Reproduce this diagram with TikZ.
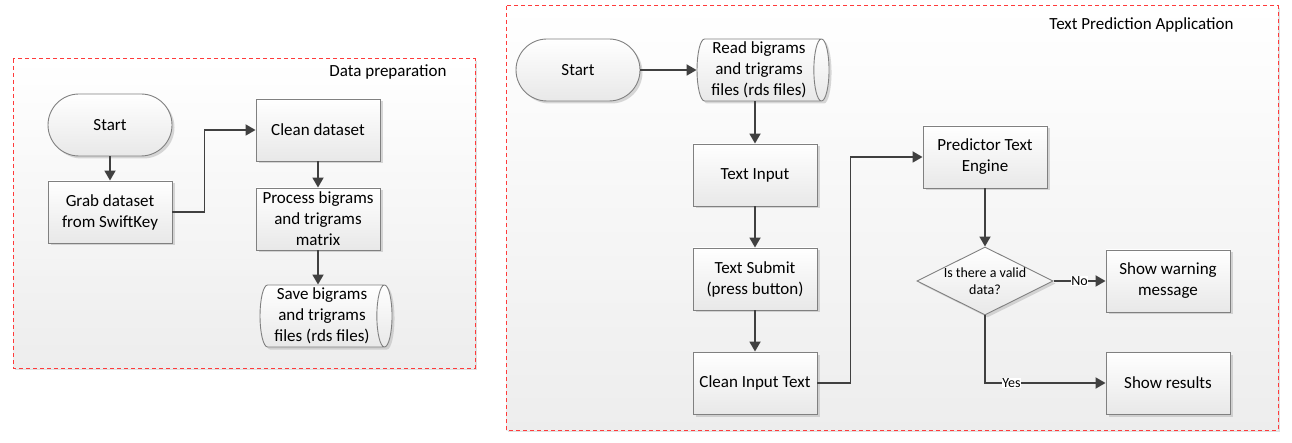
\documentclass[tikz,border=0pt]{standalone}
\usepackage{fontspec}
\setmainfont{Carlito}
\usetikzlibrary{shapes.geometric,arrows.meta,shadows}
\definecolor{linegray}{HTML}{404040}
\definecolor{boxgray}{HTML}{808080}
\definecolor{framered}{HTML}{FF3B3B}

\begin{document}
\begin{tikzpicture}[x=1pt,y=-1pt,font=\fontsize{17}{21}\selectfont]
        \tikzstyle{base node}=[draw=boxgray,line width=0.9pt,shading=axis,top color=white,bottom color=black!9,align=center,inner sep=2pt,
            drop shadow={shadow xshift=2.5pt,shadow yshift=-2.5pt,fill=black!30,opacity=0.5}]
        \tikzstyle{process node}=[base node,rectangle,minimum width=124,minimum height=62]
        \tikzstyle{terminal node}=[base node,rectangle,rounded corners=31pt,minimum width=124,minimum height=62]
        \tikzstyle{data node}=[base node,cylinder,shape aspect=0.27,minimum width=62,minimum height=132,inner sep=0pt]
        \tikzstyle{decision node}=[base node,diamond,aspect=2,minimum width=124,minimum height=61,inner sep=0pt,font=\fontsize{14}{17}\selectfont]
        \tikzstyle{frame}=[draw=framered,dash pattern=on 4pt off 3pt,line width=1pt,shading=axis,top color=white,bottom color=black!7,
            drop shadow={shadow xshift=2pt,shadow yshift=-2pt,fill=black!30,opacity=0.4}]
        \tikzstyle{flow}=[draw=linegray,line width=1.8pt,-{Triangle[length=10pt,width=11pt]}]
        \tikzstyle{answer}=[fill=white,inner sep=0.5pt,font=\fontsize{14}{17}\selectfont]

        \useasboundingbox (0,0) rectangle (1292,443);

        \path[frame] (13,59) rectangle (475,368);
        \path[frame] (506,6) rectangle (1278,430);
        \node(prep title)[anchor=east] at (450,72) {Data preparation};
        \node(app title)[anchor=east] at (1237,25) {Text Prediction Application};

        \node(start1)[terminal node] at (110,125) {Start};
        \node(grab)[process node] at (110,212) {Grab dataset\\from SwiftKey};
        \node(clean)[process node] at (318,130) {Clean dataset};
        \node(process)[process node] at (318,219) {Process bigrams\\and trigrams\\matrix};
        \node(save)[data node] at (322,316) {Save bigrams\\and trigrams\\files (rds files)};

        \node(start2)[terminal node] at (578,70) {Start};
        \node(read)[data node] at (759,70) {Read bigrams\\and trigrams\\files (rds files)};
        \node(input)[process node] at (755,175) {Text Input};
        \node(submit)[process node] at (755,279) {Text Submit\\(press button)};
        \node(cleantext)[process node] at (755,383) {Clean Input Text};
        \node(engine)[process node] at (985,157) {Predictor Text\\Engine};
        \node(check)[decision node] at (985,281) {Is there a valid\\data?};
        \node(warning)[process node] at (1168,281) {Show warning\\message};
        \node(results)[process node] at (1168,383) {Show results};

        \draw[flow] (start1) -- (grab);
        \draw[flow] (grab.east) -- ++(32,0) |- (clean.west);
        \draw[flow] (clean) -- (process);
        \draw[flow] (process) -- (process |- save.north);

        \draw[flow] (start2) -- (read);
        \draw[flow] (input |- read.south) -- (input);
        \draw[flow] (input) -- (submit);
        \draw[flow] (submit) -- (cleantext);
        \draw[flow] (cleantext.east) -- ++(33,0) |- (engine.west);
        \draw[flow] (engine) -- (check);
        \draw[flow] (check) -- node[answer]{No} (warning);
        \draw[flow] (check) |- node[answer,pos=0.61]{Yes} (results);
    \end{tikzpicture}
\end{document}
